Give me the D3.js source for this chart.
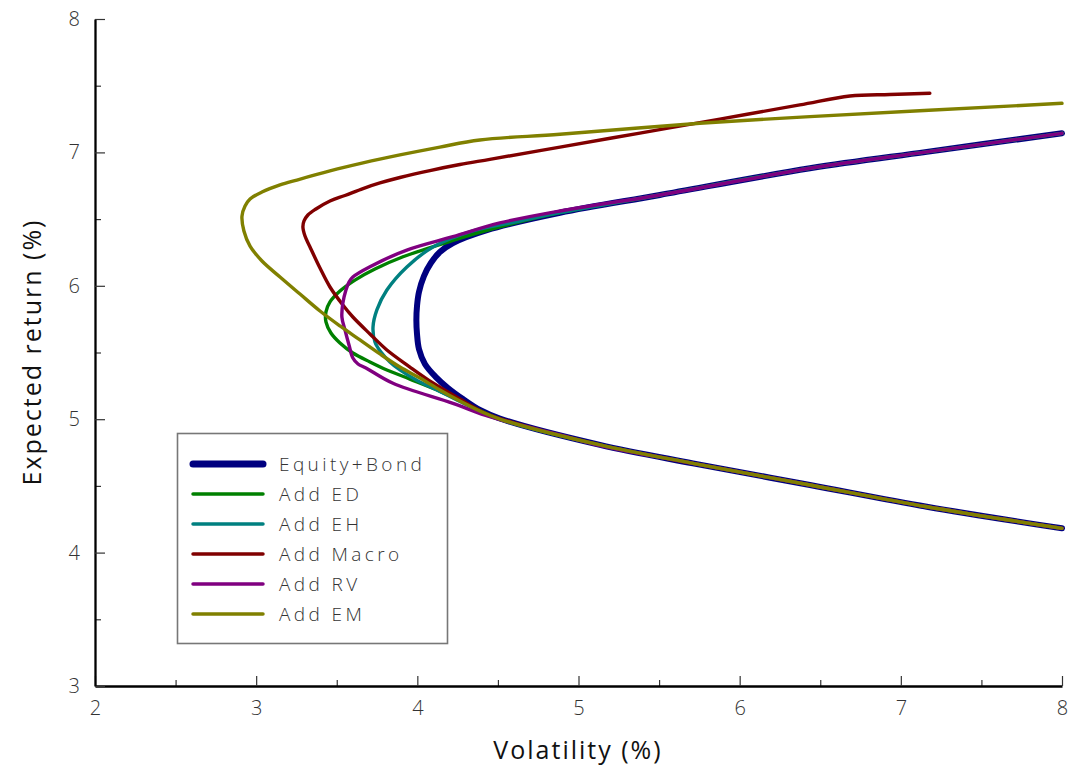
<!DOCTYPE html>
<html>
<head>
<meta charset="utf-8">
<script src="https://cdn.jsdelivr.net/npm/d3@7"></script>
<style>
  html, body { margin: 0; padding: 0; background: #fff; }
  svg { display: block; }
  text { font-family: "Open Sans", "DejaVu Sans", sans-serif; font-weight: 300; }
</style>
</head>
<body>
<svg id="chart" width="1070" height="767"></svg>
<script>
// Efficient frontiers: [volatility %, expected return %] pairs, from the upper end down to the lower end.
const equityBond = [[8.0,7.143],[7.161,7.004],[6.436,6.881],[5.505,6.681],[4.885,6.548],[4.432,6.418],[4.221,6.321],[4.140,6.253],[4.084,6.171],[4.041,6.073],[4.010,5.953],[3.998,5.849],[3.994,5.744],[3.998,5.639],[4.010,5.526],[4.047,5.414],[4.115,5.316],[4.190,5.234],[4.283,5.151],[4.388,5.069],[4.512,5.005],[5.133,4.807],[5.710,4.669],[6.436,4.507],[7.161,4.344],[8.0,4.182]];
const addED = [[8.0,7.143],[7.161,7.004],[6.436,6.881],[5.505,6.681],[4.885,6.548],[4.512,6.441],[4.221,6.340],[3.911,6.218],[3.737,6.126],[3.613,6.043],[3.520,5.961],[3.458,5.879],[3.433,5.804],[3.433,5.729],[3.464,5.646],[3.520,5.571],[3.600,5.496],[3.706,5.429],[3.811,5.369],[3.954,5.301],[4.122,5.219],[4.295,5.121],[4.512,5.001],[5.133,4.807],[5.710,4.669],[6.436,4.507],[7.161,4.344],[8.0,4.182]];
const addEH = [[8.0,7.143],[7.161,7.004],[6.436,6.881],[5.505,6.681],[4.885,6.548],[4.637,6.486],[4.345,6.411],[4.097,6.291],[3.935,6.141],[3.811,5.968],[3.749,5.819],[3.725,5.691],[3.737,5.579],[3.774,5.504],[3.830,5.429],[3.892,5.369],[4.004,5.286],[4.122,5.219],[4.295,5.114],[4.512,5.001],[5.133,4.807],[5.710,4.669],[6.436,4.507],[7.161,4.344],[8.0,4.182]];
const addMacro = [[7.180,7.443],[6.932,7.434],[6.684,7.423],[6.373,7.356],[5.877,7.250],[5.381,7.145],[4.885,7.040],[4.450,6.948],[4.264,6.909],[4.078,6.864],[3.892,6.812],[3.768,6.771],[3.663,6.729],[3.551,6.677],[3.458,6.636],[3.371,6.576],[3.321,6.531],[3.297,6.486],[3.290,6.441],[3.303,6.373],[3.334,6.291],[3.396,6.133],[3.458,5.991],[3.538,5.856],[3.600,5.766],[3.706,5.639],[3.811,5.519],[3.954,5.391],[4.097,5.271],[4.264,5.151],[4.419,5.046],[4.512,5.005],[5.133,4.807],[5.710,4.669],[6.436,4.507],[7.161,4.344],[8.0,4.182]];
const addRV = [[8.0,7.143],[7.161,7.004],[6.436,6.881],[5.505,6.681],[4.885,6.561],[4.512,6.471],[4.221,6.368],[3.935,6.268],[3.706,6.143],[3.600,6.066],[3.576,6.028],[3.557,5.968],[3.538,5.871],[3.532,5.766],[3.551,5.669],[3.576,5.556],[3.600,5.459],[3.632,5.414],[3.681,5.384],[3.849,5.269],[4.221,5.119],[4.419,5.031],[4.637,4.957],[4.885,4.882],[5.133,4.803],[5.710,4.669],[6.436,4.507],[7.161,4.344],[8.0,4.182]];
const addEM = [[8.0,7.368],[6.436,7.268],[5.753,7.218],[4.885,7.136],[4.388,7.093],[4.140,7.040],[3.892,6.981],[3.663,6.921],[3.458,6.861],[3.253,6.793],[3.148,6.756],[3.036,6.703],[2.962,6.651],[2.931,6.598],[2.912,6.523],[2.924,6.411],[2.962,6.298],[3.036,6.186],[3.148,6.066],[3.272,5.938],[3.396,5.811],[3.520,5.699],[3.644,5.594],[3.768,5.489],[3.892,5.391],[4.016,5.309],[4.140,5.219],[4.264,5.136],[4.388,5.061],[4.512,5.001],[5.133,4.807],[5.710,4.669],[6.436,4.507],[7.161,4.344],[8.0,4.182]];

const seriesNames = ["Equity+Bond", "Add ED", "Add EH", "Add Macro", "Add RV", "Add EM"];
const seriesData = [equityBond, addED, addEH, addMacro, addRV, addEM];
const seriesColors = ["#000080", "#008000", "#008080", "#800000", "#800080", "#808000"];
const seriesWidths = [6, 3.4, 3.4, 3.4, 3.4, 3.4];

const xMajor = [2, 3, 4, 5, 6, 7, 8];
const xMinor = [2.5, 3.5, 4.5, 5.5, 6.5, 7.5];
const yMajor = [3, 4, 5, 6, 7, 8];
const yMinor = [3.5, 4.5, 5.5, 6.5, 7.5];

const svg = d3.select("#chart");
const x = d3.scaleLinear().domain([2, 8]).range([95, 1062]);
const y = d3.scaleLinear().domain([3, 8]).range([686, 19]);

// Frontier lines, drawn in legend order so later series sit on top
const line = d3.line().x(d => x(d[0])).y(d => y(d[1])).curve(d3.curveCatmullRom.alpha(0.5));
svg.append("g").selectAll("path")
  .data(seriesData)
  .join("path")
  .attr("d", line)
  .attr("fill", "none")
  .attr("stroke", (d, i) => seriesColors[i])
  .attr("stroke-width", (d, i) => seriesWidths[i])
  .attr("stroke-linecap", "round")
  .attr("stroke-linejoin", "round");

// Axes with inward-pointing ticks
function styleMinor(g) {
  g.select(".domain").remove();
  g.selectAll(".tick line").attr("stroke", "#333").attr("stroke-width", 1.2);
}
function styleAxis(g) {
  g.select(".domain").attr("stroke", "#000").attr("stroke-width", 2.3);
  g.selectAll(".tick line").attr("stroke", "#333").attr("stroke-width", 1.2);
  g.selectAll(".tick text").attr("fill", "#333").style("font-size", "20px");
}

svg.append("g").attr("transform", "translate(0,686)")
  .call(d3.axisBottom(x).tickValues(xMinor).tickSize(-6).tickFormat(""))
  .call(styleMinor);
svg.append("g").attr("transform", "translate(95,0)")
  .call(d3.axisLeft(y).tickValues(yMinor).tickSize(-6).tickFormat(""))
  .call(styleMinor);

svg.append("g").attr("transform", "translate(0,686)")
  .call(d3.axisBottom(x).tickValues(xMajor).tickSize(-10).tickSizeOuter(0).tickPadding(15).tickFormat(d3.format("d")))
  .call(styleAxis);
svg.append("g").attr("transform", "translate(95,0)")
  .call(d3.axisLeft(y).tickValues(yMajor).tickSize(-10).tickSizeOuter(0).tickPadding(15).tickFormat(d3.format("d")))
  .call(styleAxis);

// Axis titles
svg.append("text")
  .attr("x", 578).attr("y", 759)
  .attr("text-anchor", "middle")
  .attr("fill", "#111")
  .style("font-size", "25px").style("font-weight", 400).style("letter-spacing", "2px")
  .text("Volatility (%)");
svg.append("text")
  .attr("transform", "translate(41,352) rotate(-90)")
  .attr("text-anchor", "middle")
  .attr("fill", "#111")
  .style("font-size", "25px").style("font-weight", 400).style("letter-spacing", "2px")
  .text("Expected return (%)");

// Legend
const legend = svg.append("g");
legend.append("rect")
  .attr("x", 177.5).attr("y", 433.5).attr("width", 270).attr("height", 210)
  .attr("fill", "#fff").attr("stroke", "#777").attr("stroke-width", 1.6);
const rows = legend.selectAll("g.row")
  .data(seriesNames)
  .join("g")
  .attr("class", "row")
  .attr("transform", (d, i) => `translate(0,${464 + i * 30})`);
rows.append("line")
  .attr("x1", 193).attr("x2", 263).attr("y1", 0).attr("y2", 0)
  .attr("stroke", (d, i) => seriesColors[i])
  .attr("stroke-width", (d, i) => i === 0 ? 7 : 3.5)
  .attr("stroke-linecap", "round");
rows.append("text")
  .attr("x", 279).attr("y", 0).attr("dy", "0.35em")
  .attr("fill", "#333")
  .style("font-size", "19px").style("letter-spacing", "3.4px")
  .text(d => d);
</script>
</body>
</html>
